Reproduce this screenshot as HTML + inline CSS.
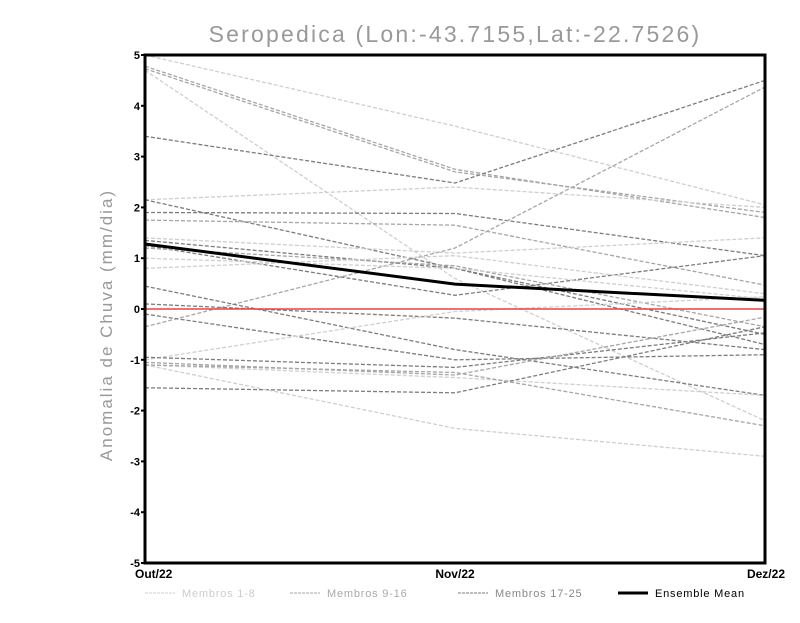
<!DOCTYPE html>
<html><head><meta charset="utf-8"><style>
body{margin:0;background:#fff;width:800px;height:618px;overflow:hidden}
svg text{font-family:"Liberation Sans",sans-serif}
</style></head><body>
<svg id="c" width="800" height="618"></svg>
<script>
const months=["Out/22","Nov/22","Dez/22"];
const yTicks=[-5,-4,-3,-2,-1,0,1,2,3,4,5];
const groups=["L","M","M","L","D","L","D","D","M","M","L","D","D","M","L","L","D","D","D","L","D","M","L","D","L","M"];
const s1=[5.0,3.6,2.05];const s2=[4.78,2.75,1.8];const s3=[4.73,2.7,1.9];const s4=[4.7,0.6,-2.2];
const s5=[3.4,2.48,4.5];const s6=[2.15,2.4,2.0];const s7=[2.15,0.8,-0.5];const s8=[1.9,1.88,1.05];
const s9=[1.75,1.65,0.47];const s10=[-0.35,1.2,4.37];const s11=[1.4,1.1,1.4];const s12=[1.35,0.8,-0.7];
const s13=[1.25,0.27,1.05];const s14=[1.2,0.85,-0.35];const s15=[1.0,0.8,0.2];const s16=[0.8,1.05,0.3];
const s17=[0.45,-0.8,-1.7];const s18=[0.1,-0.18,-0.8];const s19=[-0.1,-1.0,-0.9];const s20=[-1.0,-0.05,0.24];
const s21=[-0.95,-1.15,-0.47];const s22=[-1.05,-1.3,-0.16];const s23=[-1.1,-1.35,-1.7];const s24=[-1.55,-1.65,-0.35];
const s25=[-1.1,-2.35,-2.9];const s26=[-1.1,-1.25,-2.3];
const members=[s1,s2,s3,s4,s5,s6,s7,s8,s9,s10,s11,s12,s13,s14,s15,s16,s17,s18,s19,s20,s21,s22,s23,s24,s25,s26];
const ensembleMean=[1.28,0.49,0.17];
const X0=145,X1=765,Y0=563,Y1=55;
const xs=i=>X0+i*(X1-X0)/(months.length-1);
const ys=v=>Y0-(v+5)*(Y0-Y1)/10;
const col={L:"#cfcfcf",M:"#a6a6a6",D:"#7c7c7c"};
const svg=document.getElementById('c');const NS="http://www.w3.org/2000/svg";
function mk(t,a,txt){const e=document.createElementNS(NS,t);for(const k in a)e.setAttribute(k,a[k]);if(txt!==undefined)e.textContent=txt;svg.appendChild(e);return e;}
let e=mk('text',{x:455,y:42,'font-size':23,fill:'#999','text-anchor':'middle','letter-spacing':2.2},'Seropedica (Lon:-43.7155,Lat:-22.7526)');

e=mk('text',{x:0,y:0,'font-size':17,fill:'#999','text-anchor':'middle','letter-spacing':2,transform:'translate(112,325) rotate(-90)'},'Anomalia de Chuva (mm/dia)');

members.forEach((s,k)=>{
 const p=mk('polyline',{points:s.map((v,i)=>xs(i)+','+ys(v)).join(' '),fill:'none',stroke:col[groups[k]],'stroke-width':1.3,'stroke-dasharray':'4,2'});
 
 
});
e=mk('line',{x1:X0,x2:X1,y1:ys(0),y2:ys(0),stroke:'#f04040','stroke-width':1.6});

e=mk('polyline',{points:ensembleMean.map((v,i)=>xs(i)+','+ys(v)).join(' '),fill:'none',stroke:'#000','stroke-width':3});

e=mk('rect',{x:X0,y:Y1,width:X1-X0,height:Y0-Y1,fill:'none',stroke:'#000','stroke-width':3});

yTicks.forEach(v=>{
 const l=mk('line',{x1:X0-4,x2:X0,y1:ys(v),y2:ys(v),stroke:'#000','stroke-width':2});
 
 
 const t=mk('text',{x:X0-5,y:ys(v)+4,'font-size':11,'font-weight':'bold','text-anchor':'end'},String(v));
 
 
});
months.forEach((m,i)=>{
 const anc=i===0?'start':(i===months.length-1?'end':'middle');
 const xx=i===0?X0-10:(i===months.length-1?X1+20:xs(i));
 const t=mk('text',{x:xx,y:578,'font-size':12,'font-weight':'bold','text-anchor':anc},m);
 
 
});
const legend=[["Membros 1-8",col.L,1,'3,1'],["Membros 9-16",col.M,1,'3,1'],["Membros 17-25",col.D,1,'3,1'],["Ensemble Mean","#000",3,'none']];
const legX=[145,290,458,618];const legC=["#ccc","#aaa","#888","#000"];
legend.forEach((g,i)=>{
 const l=mk('line',{x1:legX[i],x2:legX[i]+30,y1:593,y2:593,stroke:g[1],'stroke-width':g[2],'stroke-dasharray':g[3]});
 
 
 const t=mk('text',{x:legX[i]+37,y:597,'font-size':11,fill:legC[i],'letter-spacing':0.8},g[0]);
 
 
});
</script>
</body></html>
